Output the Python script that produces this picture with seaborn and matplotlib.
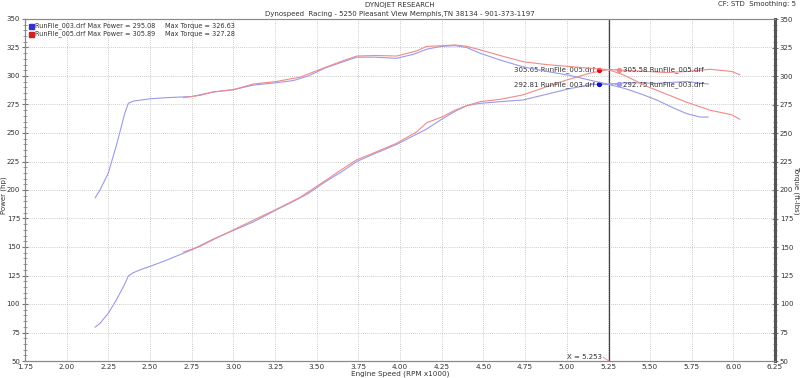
import matplotlib
matplotlib.use('Agg')
import matplotlib.pyplot as plt
import seaborn as sns
import numpy as np
from matplotlib.ticker import MultipleLocator

# RunFile_003 (blue)
rpm_003 = [2.17, 2.20, 2.25, 2.30, 2.35, 2.37, 2.40, 2.45, 2.50, 2.60, 2.75, 2.88, 3.00,
           3.12, 3.25, 3.36, 3.45, 3.55, 3.65, 3.74, 3.85, 3.98, 4.08, 4.16, 4.25, 4.33,
           4.40, 4.48, 4.60, 4.74, 4.88, 5.02, 5.15, 5.25, 5.35, 5.45, 5.54, 5.64, 5.72,
           5.80, 5.85]
torque_003 = [193, 200, 215, 240, 268, 276, 278, 279, 280, 281, 282, 286, 288,
              292, 294, 296, 300, 307, 312, 316.5, 316.5, 315.5, 319, 323.5, 326, 326.6,
              325, 320, 314, 308, 304, 300.5, 296, 292.75, 289, 284, 279, 272, 267,
              264, 264]
power_003 = [79.6, 83, 92, 104, 118, 124.6, 127.5, 130.5, 133, 138.5, 147.5, 157, 164.5,
             172, 182, 190, 197, 207, 216, 225, 232, 240, 247.5, 253.5, 262, 269,
             274, 276, 277.5, 279, 284, 289, 292.5, 292.81, 294, 294, 293.5, 294.5, 295.08,
             293.8, 293]

# RunFile_005 (red)
rpm_005 = [2.70, 2.80, 2.88, 3.00, 3.12, 3.25, 3.40, 3.56, 3.65, 3.74, 3.85, 3.98, 4.10,
           4.16, 4.25, 4.33, 4.40, 4.48, 4.60, 4.74, 4.88, 5.00, 5.14, 5.25, 5.34, 5.48,
           5.60, 5.72, 5.86, 5.99, 6.04]
torque_005 = [281, 283, 286, 288, 293, 295, 299, 308, 313, 317.5, 318, 317.5, 322,
              326, 326.5, 327.28, 326, 323, 318, 312.5, 310, 308.5, 306.8, 305.58, 301, 291,
              284, 277, 270, 266, 262]
power_005 = [145.5, 150.5, 156.5, 165, 173.5, 182.5, 193.5, 209, 218, 226.5, 233, 241, 251,
             259, 264, 270, 274, 277.5, 279.5, 283.5, 290.6, 296.5, 302.5, 305.65, 305, 304,
             303, 304, 305.89, 304, 301]

cursor_x = 5.253

BLUE = '#9a9ae8'
RED = '#f08a8a'
TXT = '#333333'

sns.set_style('white')
plt.rcParams['font.family'] = ['DejaVu Sans']

fig = plt.figure(figsize=(8, 3.78), dpi=100)
ax = fig.add_axes([25 / 800, 1 - 361 / 378, 750 / 800, 342 / 378])
ax2 = ax.twinx()

sns.lineplot(x=rpm_003, y=power_003, ax=ax, color=BLUE, lw=0.8, sort=False)
sns.lineplot(x=rpm_005, y=power_005, ax=ax, color=RED, lw=0.8, sort=False)
sns.lineplot(x=rpm_003, y=torque_003, ax=ax2, color=BLUE, lw=0.8, sort=False)
sns.lineplot(x=rpm_005, y=torque_005, ax=ax2, color=RED, lw=0.8, sort=False)

for a in (ax, ax2):
    a.set_xlim(1.75, 6.25)
    a.set_ylim(50, 350)
    a.yaxis.set_major_locator(MultipleLocator(25))
    a.yaxis.set_minor_locator(MultipleLocator(5))
    a.tick_params(axis='y', which='major', labelsize=5, length=4, direction='inout',
                  color='#777777', pad=1.5, labelcolor=TXT)
    a.tick_params(axis='y', which='minor', length=3, direction='inout', color='#888888')

ax.xaxis.set_major_locator(MultipleLocator(0.25))
ax.xaxis.set_minor_locator(MultipleLocator(0.025))
ax.xaxis.set_major_formatter(matplotlib.ticker.FormatStrFormatter('%.2f'))
ax.tick_params(axis='x', which='major', labelsize=5.2, length=4, direction='inout',
               color='#777777', pad=0.5, labelcolor=TXT)
ax.tick_params(axis='x', which='minor', length=3, direction='inout', color='#888888')
ax.tick_params(axis='y', left=True)
ax2.tick_params(axis='y', right=True)

ax.grid(True, which='major', ls=(0, (1, 1.5)), lw=0.6, color='#bbbbbb')
ax.set_axisbelow(True)

for s in list(ax.spines.values()) + list(ax2.spines.values()):
    s.set_color('#888888')
    s.set_linewidth(0.8)
ax2.spines['right'].set_color('#555555')
ax2.spines['right'].set_linewidth(2.2)
ax.spines['top'].set_color('#cccccc')

ax.set_ylabel('')
ax2.set_ylabel('')
fig.text(0.5, 1 - 373.5 / 378, 'Engine Speed (RPM x1000)', fontsize=5.2, ha='center',
         va='center', color=TXT)
fig.text(4 / 800, 1 - 195 / 378, 'Power (hp)', fontsize=5, rotation=90, ha='center',
         va='center', color=TXT)
fig.text(796 / 800, 1 - 190 / 378, 'Torque (ft-lbs)', fontsize=5, rotation=-90, ha='center',
         va='center', color=TXT)

# cursor
ax.axvline(cursor_x, color='#444444', lw=0.9, zorder=1)
ax.text(cursor_x - 0.04, 53.5, 'X = 5.253', fontsize=5, ha='right', va='center', color=TXT)
ax.plot([cursor_x - 0.035, cursor_x], [53.5, 50], color=RED, lw=0.6)

# cursor readouts
readouts = [
    (power_005[rpm_005.index(5.25)], torque_005[rpm_005.index(5.25)], 'RunFile_005.drf', '#dd1111', RED),
    (power_003[rpm_003.index(5.25)], torque_003[rpm_003.index(5.25)], 'RunFile_003.drf', '#1111bb', BLUE),
]
for pw, tq, name, dark, light in readouts:
    x_left, x_right = cursor_x - 0.058, cursor_x + 0.058
    ax.plot([x_left, x_right], [pw, tq], color=light, lw=0.7, ls='--', zorder=4)
    ax.plot(x_left, pw, 'o', ms=2.8, color=dark, zorder=5)
    ax.plot(x_right, tq, 'o', ms=2.8, color=light, zorder=5)
    ax.text(x_left - 0.025, pw, f'{pw:.2f} {name}', fontsize=5, ha='right', va='center', color=TXT)
    ax.text(x_right + 0.025, tq, f'{tq:.2f} {name}', fontsize=5, ha='left', va='center', color=TXT)

# legend block
legend_rows = [
    ('#3333cc', 'RunFile_003.drf Max Power = 295.08', 'Max Torque = 326.63'),
    ('#cc2222', 'RunFile_005.drf Max Power = 305.89', 'Max Torque = 327.28'),
]
for i, (edge, t1, t2) in enumerate(legend_rows):
    yy = 344 - i * 7.2
    ax.plot(1.788, yy, 's', ms=3.6, color=edge, zorder=6)
    ax.text(1.81, yy, t1, fontsize=4.7, va='center', ha='left', color=TXT)
    ax.text(2.59, yy, t2, fontsize=4.7, va='center', ha='left', color=TXT)

fig.text(0.5, 0.988, 'DYNOJET RESEARCH', fontsize=5, ha='center', va='center', color=TXT)
fig.text(0.5, 0.963, 'Dynospeed  Racing - 5250 Pleasant View Memphis,TN 38134 - 901-373-1197',
         fontsize=5, ha='center', va='center', color=TXT)
fig.text(0.995, 0.99, 'CF: STD  Smoothing: 5', fontsize=5, ha='right', va='center', color=TXT)

fig.savefig('out.png', dpi=100)
